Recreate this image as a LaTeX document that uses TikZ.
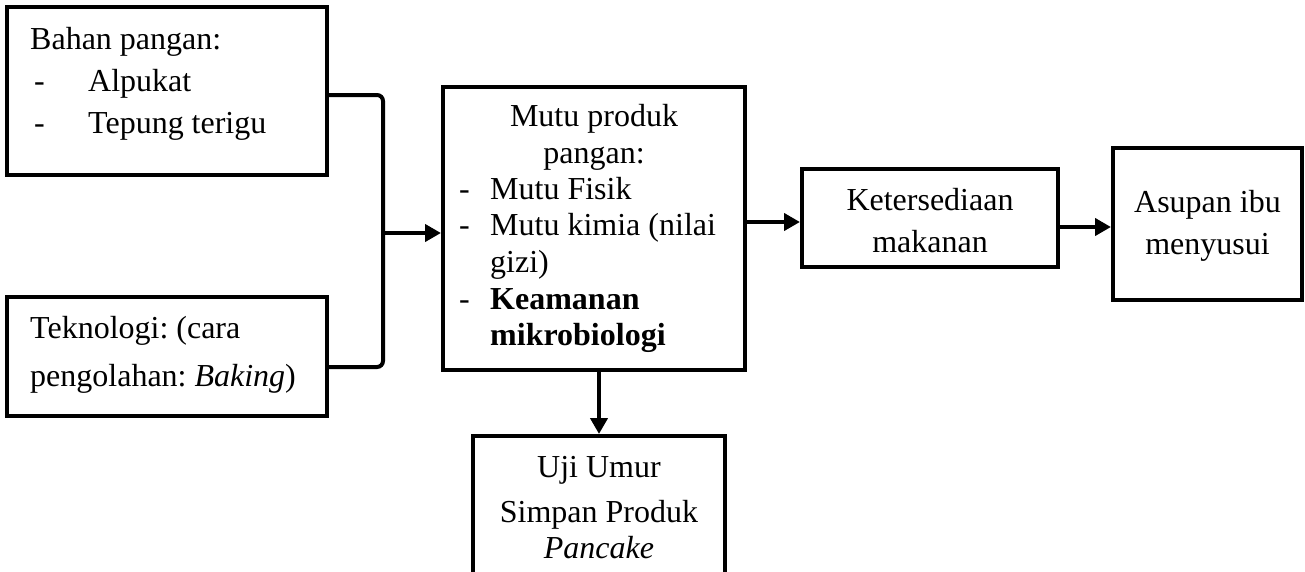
\documentclass[tikz,border=0pt]{standalone}
\usepackage{fontspec}
\setmainfont{Liberation Serif}
\usetikzlibrary{arrows.meta}
\frenchspacing
\begin{document}
\begin{tikzpicture}[x=1pt,y=-1pt,
  box/.style={draw, line width=4pt, inner sep=0pt, fill=white},
  conn/.style={line width=4pt},
  arr/.style={line width=4pt, -{Triangle[length=16pt,width=17pt]}},
  txt/.style={inner sep=0pt, font=\fontsize{32}{38}\selectfont}]
\useasboundingbox (0,0) rectangle (1305,571);
\clip (0,0) rectangle (1305,571);
% boxes
\node[box, minimum width=320, minimum height=168] (b1) at (167,91) {};
\node[box, minimum width=320, minimum height=119] (b2) at (167,356.5) {};
\node[box, minimum width=302, minimum height=283] (m) at (594,228.5) {};
\node[box, minimum width=256, minimum height=98] (k) at (930,218) {};
\node[box, minimum width=189, minimum height=152] (a) at (1207.5,224) {};
\node[box, minimum width=252, minimum height=180] (u) at (599,526) {};
% box 1 text
\node[txt, anchor=base west] (t1a) at (30,49) {Bahan pangan:};
\node[txt, anchor=base west] (t1b) at (34,91) {-};
\node[txt, anchor=base west] (t1c) at (88,91) {Alpukat};
\node[txt, anchor=base west] (t1d) at (34,133) {-};
\node[txt, anchor=base west] (t1e) at (88,133) {Tepung terigu};
% box 2 text
\node[txt, anchor=base west] (t2a) at (30,338) {Teknologi: (cara};
\node[txt, anchor=base west] (t2b) at (30,386) {pengolahan: \textit{Baking})};
% mutu text
\node[txt, anchor=base] (t3a) at (594,126) {Mutu produk};
\node[txt, anchor=base] (t3b) at (594,163) {pangan:};
\node[txt, anchor=base west] (t3c) at (459,199) {-};
\node[txt, anchor=base west] (t3d) at (490,199) {Mutu Fisik};
\node[txt, anchor=base west] (t3e) at (459,235) {-};
\node[txt, anchor=base west] (t3f) at (490,235) {Mutu kimia (nilai};
\node[txt, anchor=base west] (t3g) at (490,272) {gizi)};
\node[txt, anchor=base west] (t3h) at (459,309) {-};
\node[txt, anchor=base west] (t3i) at (490,309) {\textbf{Keamanan}};
\node[txt, anchor=base west] (t3j) at (490,345) {\textbf{mikrobiologi}};
% ketersediaan
\node[txt, anchor=base] (t4a) at (930,210) {Ketersediaan};
\node[txt, anchor=base] (t4b) at (930,252) {makanan};
% asupan
\node[txt, anchor=base] (t5a) at (1207.5,212) {Asupan ibu};
\node[txt, anchor=base] (t5b) at (1207.5,254) {menyusui};
% uji
\node[txt, anchor=base] (t6a) at (599,477) {Uji Umur};
\node[txt, anchor=base] (t6b) at (599,522) {Simpan Produk};
\node[txt, anchor=base] (t6c) at (599,558) {\textit{Pancake}};
% connectors
\coordinate (j1) at (383,95);
\coordinate (j2) at (383,367);
\coordinate (j3) at (383,233);
\draw[conn, rounded corners=6pt] (b1.east |- j1) -- (j1) -- (j2) -- (b2.east |- j2);
\draw[arr] (j3) -- (m.west |- j3);
\coordinate (j4) at (745,222);
\draw[arr] (j4) -- (k.west |- j4);
\coordinate (j5) at (1058,227);
\draw[arr] (j5) -- (a.west |- j5);
\draw[arr] (m.south -| u.north) -- (u.north);
\end{tikzpicture}
\end{document}
